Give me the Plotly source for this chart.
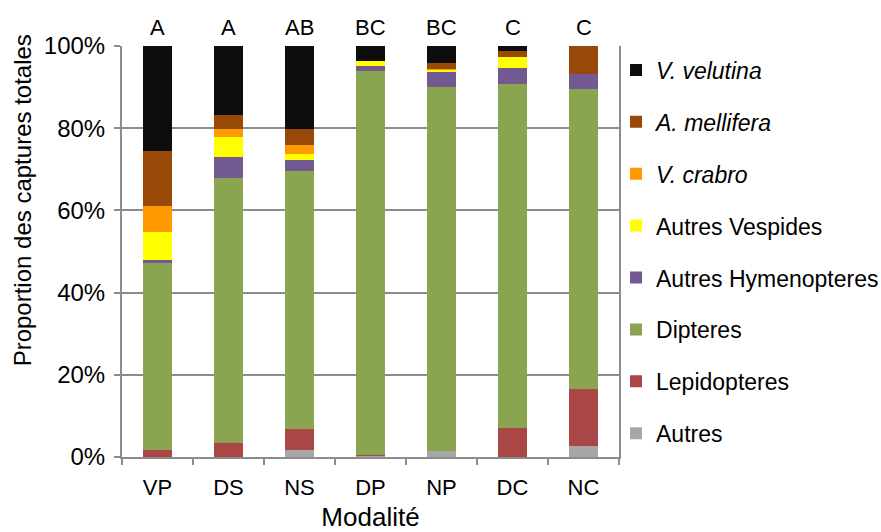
import plotly.graph_objects as go

# Sampling modalities and significance letters
categories = ["VP", "DS", "NS", "DP", "NP", "DC", "NC"]
letters = ["A", "A", "AB", "BC", "BC", "C", "C"]

# Share of total captures per group (%), bottom to top of each stack
autres = [0.0, 0.0, 1.7, 0.4, 1.5, 0.0, 2.7]
lepidopteres = [1.7, 3.3, 5.2, 0.1, 0.0, 7.1, 13.8]
dipteres = [45.6, 64.7, 62.8, 93.4, 88.5, 83.6, 73.1]
autres_hymenopteres = [0.6, 4.9, 2.6, 1.3, 3.9, 4.0, 3.5]
autres_vespides = [6.8, 5.0, 1.4, 1.2, 0.3, 2.7, 0.0]
v_crabro = [6.3, 1.9, 2.3, 0.0, 0.3, 0.0, 0.0]
a_mellifera = [13.5, 3.4, 3.8, 0.0, 1.3, 1.4, 6.9]
v_velutina = [25.5, 16.8, 20.2, 3.6, 4.2, 1.2, 0.0]

# y-axis ticks
y_ticks = [0, 20, 40, 60, 80, 100]
y_tick_text = ["0%", "20%", "40%", "60%", "80%", "100%"]

series = [
    ("Autres", autres, "#a6a6a6"),
    ("Lepidopteres", lepidopteres, "#aa4646"),
    ("Dipteres", dipteres, "#8aa550"),
    ("Autres Hymenopteres", autres_hymenopteres, "#735991"),
    ("Autres Vespides", autres_vespides, "#ffff00"),
    ("<i>V. crabro</i>", v_crabro, "#ff9900"),
    ("<i>A. mellifera</i>", a_mellifera, "#984807"),
    ("<i>V. velutina</i>", v_velutina, "#0d0d0d"),
]

FONT = "Liberation Sans, Arial, sans-serif"
GRID = "#8c8c8c"

fig = go.Figure()
n = len(series)
for i, (name, vals, color) in enumerate(series):
    fig.add_trace(go.Bar(
        x=categories, y=vals, name=name, legendgroup=f"g{i}",
        legendrank=n - i,
        marker=dict(color=color, line=dict(width=0)),
    ))

# significance letters above each bar
for cat, lab in zip(categories, letters):
    fig.add_annotation(x=cat, y=1, xref="x", yref="paper", text=lab,
                       showarrow=False, yanchor="bottom", yshift=4,
                       font=dict(size=22, color="#000000", family=FONT))

# y-axis title
fig.add_annotation(x=-0.2012, y=0.6245, xref="paper", yref="paper",
                   text="Proportion des captures totales", textangle=-90,
                   showarrow=False, xanchor="center", yanchor="middle",
                   font=dict(size=24, color="#000000", family=FONT))

fig.update_layout(
    width=881, height=532,
    margin=dict(l=122, r=262, t=45.5, b=75, autoexpand=False),
    barmode="stack", bargap=0.6,
    paper_bgcolor="white", plot_bgcolor="white",
    font=dict(family=FONT, size=22, color="#000000"),
    legend=dict(x=0.994, y=0.994, xanchor="left", yanchor="top",
                traceorder="grouped", tracegroupgap=19,
                bgcolor="rgba(0,0,0,0)",
                font=dict(size=23), itemwidth=30, maxheight=530),
    xaxis=dict(title=dict(text="Modalité", standoff=14), automargin=False,
               showline=True, linecolor=GRID, linewidth=2,
               ticks="outside", tickson="boundaries", ticklen=6,
               tickcolor=GRID, tickwidth=2, showgrid=False,
               ticklabelstandoff=10),
    yaxis=dict(range=[0, 100], tickmode="array", tickvals=y_ticks,
               ticktext=y_tick_text, tickfont=dict(size=24),
               ticklabelstandoff=4,
               automargin=False, showline=True, mirror=True,
               linecolor=GRID, linewidth=2, ticks="outside", ticklen=6,
               tickcolor=GRID, tickwidth=2, showgrid=True,
               gridcolor=GRID, gridwidth=2, zeroline=False),
)

fig.write_html("out.html")
